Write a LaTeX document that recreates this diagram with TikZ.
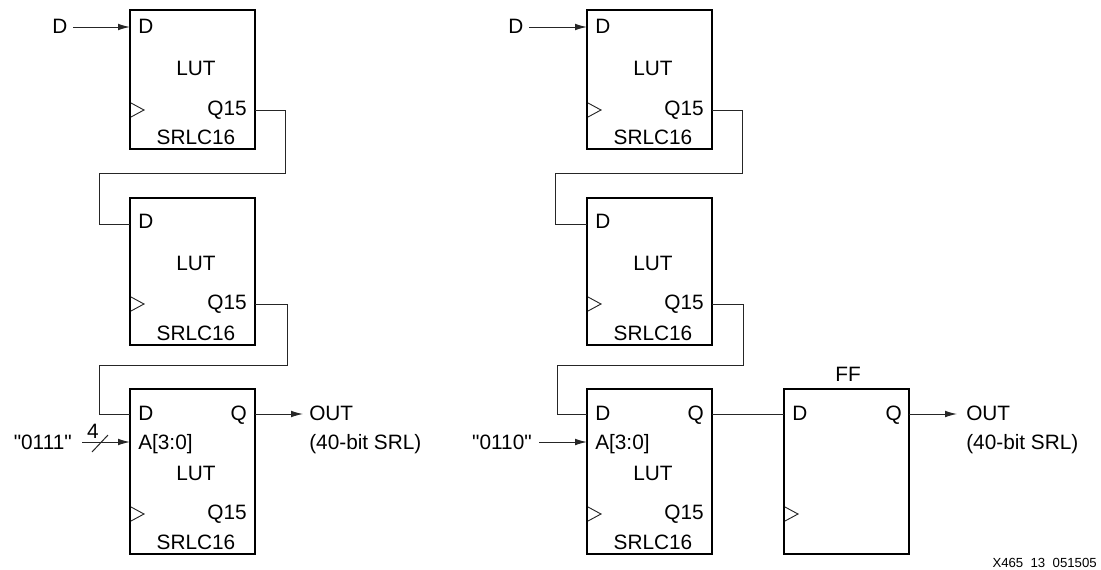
\documentclass[tikz,border=0pt]{standalone}
\usepackage{fontspec}
\setmainfont{Liberation Sans}[Ligatures=TeXOff]
\usetikzlibrary{arrows.meta}
\begin{document}
\begin{tikzpicture}[
        x=0.75pt, y=-0.75pt,
        block/.style={draw, line width=1.7pt, anchor=north west, minimum width=93.75pt, inner sep=0pt, outer sep=0pt},
        lbl/.style={inner sep=0pt, text height=11.1pt, text depth=0pt, font=\fontsize{15.6}{18}\selectfont},
        wire/.style={line width=0.75pt, black!85},
        arr/.style={wire, -{Latex[length=9pt,width=5pt]}},
        clk/.style={line width=0.7pt, black!85}
      ]
        \useasboundingbox (0,0) rectangle (1101,569);
        % name/left/top/bottom/D row/D pin/LUT row/Q15 row
        \foreach \n/\x/\yt/\yb/\yd/\yp/\yl/\yq in {
            a/130/10/149/26/27/68/108, b/130/198/345/221/224/263/302, c/130/389/554/413/414/473/512,
            d/587/10/149/26/27/68/108, e/587/198/345/221/224/263/302, f/587/389/554/413/414/473/512} {
          \node[block, minimum height={(\yb-\yt)*0.75pt}] (box\n) at (\x,\yt) {};
          \node[lbl, anchor=west] (dl\n) at (\x+8,\yd) {D};
          \node[lbl] (lut\n) at (\x+66,\yl) {LUT};
          \node[lbl, anchor=east] (qf\n) at (\x+117,\yq) {Q15};
          \node[lbl] (srl\n) at (\x+66,\yb-12) {SRLC16};
          \coordinate (din\n) at (\x,\yp);
          \coordinate (qout\n) at (\x+125,\yq+2);
          \draw[clk] (\x+1,\yq-5) -- (\x+14,\yq+2) -- (\x+1,\yq+9);
        }
        % flip-flop on the right
        \node[block, minimum height=123.75pt] (boxg) at (784,389) {};
        \node[lbl] (fft) at (848,374) {FF};
        \node[lbl, anchor=west] (dlg) at (792,413) {D};
        \node[lbl, anchor=east] (qg) at (902,413) {Q};
        \draw[clk] (785,507) -- (798,514) -- (785,521);
        \coordinate (ding) at (784,414);
        \coordinate (qoutg) at (909,414);
        % Q outputs of the last LUTs
        \node[lbl, anchor=east] (qc) at (247,413) {Q};
        \node[lbl, anchor=east] (qf) at (704,413) {Q};
        \node[lbl, anchor=west] (ac) at (138,442) {A[3:0]};
        \node[lbl, anchor=west] (af) at (595,442) {A[3:0]};
        \coordinate (qoc) at (255,414);
        \coordinate (qof) at (712,414);
        \coordinate (ainc) at (130,442);
        \coordinate (ainf) at (587,442);
        % outside labels
        \node[lbl, anchor=west] (da) at (52,26) {D};
        \node[lbl, anchor=west] (dd) at (508,26) {D};
        \node[lbl, anchor=east] (sela) at (72,442) {"0111"};
        \node[lbl, anchor=east] (selb) at (532,442) {"0110"};
        \node[lbl] (four) at (93,431) {4};
        \node[lbl, anchor=west] (outa) at (309,413) {OUT};
        \node[lbl, anchor=west] (bita) at (309,442) {(40-bit SRL)};
        \node[lbl, anchor=west] (outb) at (966,413) {OUT};
        \node[lbl, anchor=west] (bitb) at (966,442) {(40-bit SRL)};
        \node[inner sep=0pt, anchor=east, font=\fontsize{9.9}{12}\selectfont] (tag) at (1097,563) {X465\ \ 13\ \ 051505};
        % free ends
        \coordinate (sda) at (73,27);
        \coordinate (sdd) at (529,27);
        \coordinate (ssa) at (82,442);
        \coordinate (ssb) at (539,442);
        \coordinate (ea) at (303,414);
        \coordinate (eb) at (957,414);
        % connectors
        \draw[arr] (sda) -- (dina);
        \draw[arr] (sdd) -- (dind);
        \draw[arr] (ssa) -- (ainc);
        \draw[wire] (92,452) -- (108,435);
        \draw[arr] (ssb) -- (ainf);
        \draw[wire] (qouta) -- ++(30,0) -- ++(0,63) -- ++(-186,0) |- (dinb);
        \draw[wire] (qoutb) -- ++(32,0) -- ++(0,61) -- ++(-188,0) |- (dinc);
        \draw[wire] (qoutd) -- ++(30,0) -- ++(0,63) -- ++(-187,0) |- (dine);
        \draw[wire] (qoute) -- ++(31,0) -- ++(0,61) -- ++(-186,0) |- (dinf);
        \draw[arr] (qoc) -- (ea);
        \draw[wire] (qof) -- (ding);
        \draw[arr] (qoutg) -- (eb);
      \end{tikzpicture}
\end{document}
